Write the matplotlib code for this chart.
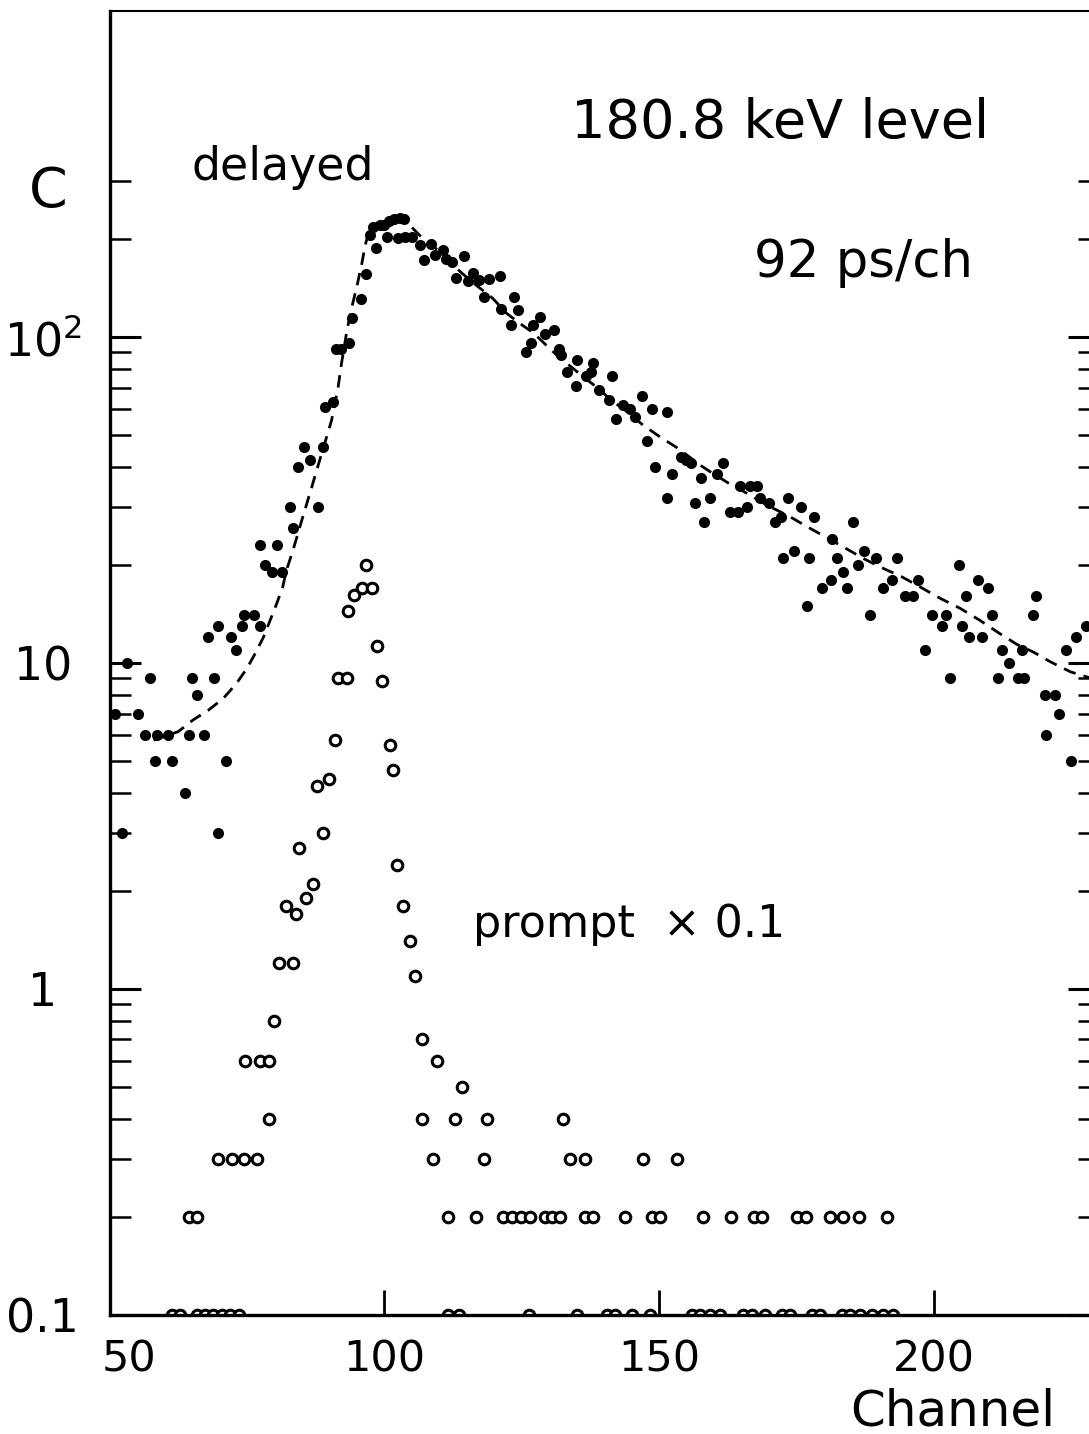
import numpy as np
import matplotlib
matplotlib.use("Agg")
import matplotlib.pyplot as plt
from matplotlib.transforms import ScaledTranslation

# delayed spectrum (filled dots)
delayed_ch = [50.9, 52.2, 53.1, 55.2, 56.5, 57.4, 58.3, 58.7, 60.6, 61.3, 63.7, 64.5, 65.0, 66.0, 67.2,
              68.0, 69.0, 69.7, 69.8, 71.2, 72.1, 73.0, 74.1, 74.5, 76.3, 77.3, 77.4, 78.3, 79.6, 80.4,
              81.4, 82.8, 83.4, 84.2, 85.3, 86.4, 88.0, 88.9, 89.2, 90.6, 91.2, 92.1, 93.6, 94.2, 95.7,
              96.6, 97.3, 98.0, 98.5, 99.2, 100.0, 100.4, 100.8, 101.7, 102.5, 102.8, 103.6, 103.8, 105.0,
              106.4, 107.2, 108.4, 109.3, 110.6, 111.2, 112.3, 113.0, 114.5, 115.3, 116.1, 117.3, 118.1,
              119.1, 121.1, 121.2, 123.1, 123.5, 124.4, 125.7, 126.7, 127.0, 128.3, 129.3, 130.9, 131.8,
              132.1, 133.2, 134.8, 135.1, 136.6, 137.6, 137.9, 139.1, 140.8, 141.5, 142.2, 143.5, 144.6,
              145.6, 146.9, 147.7, 148.7, 149.3, 151.4, 151.4, 152.3, 154.0, 154.9, 155.7, 156.5, 157.6,
              158.2, 159.3, 160.6, 161.6, 162.9, 164.4, 164.7, 165.9, 166.5, 167.8, 168.4, 169.9, 171.1,
              172.1, 172.5, 173.5, 174.5, 175.8, 176.9, 177.2, 178.2, 179.7, 181.2, 181.4, 182.3, 183.4,
              184.2, 185.2, 186.1, 187.3, 188.4, 189.4, 190.8, 192.4, 193.2, 194.7, 196.2, 197.0, 198.4,
              199.6, 201.4, 202.2, 202.9, 204.6, 205.1, 205.8, 206.4, 208.0, 208.8, 209.8, 210.6, 211.7,
              212.3, 213.7, 215.2, 216.0, 216.3, 218.0, 218.6, 220.2, 220.3, 222.0, 222.8, 224.0, 224.9,
              225.9, 227.7]
delayed_counts = [7, 3, 10, 7, 6, 9, 5, 6, 6, 5, 4, 6, 9, 8, 6,
                  12, 9, 13, 3, 5, 12, 11, 13, 14, 14, 13, 23, 20, 19, 23,
                  19, 30, 26, 40, 46, 42, 30, 46, 61, 63, 92, 92, 96, 114, 131,
                  156, 205, 217, 187, 220, 221, 203, 227, 230, 201, 231, 230, 203, 202,
                  191, 172, 193, 178, 185, 173, 170, 152, 177, 149, 157, 150, 133,
                  151, 154, 122, 109, 133, 121, 90, 96, 109, 115, 102, 105, 92,
                  88, 78, 71, 85, 76, 78, 83, 69, 64, 76, 56, 62, 60,
                  57, 66, 48, 60, 40, 59, 32, 38, 43, 42, 41, 31, 37,
                  27, 32, 38, 41, 29, 29, 35, 30, 35, 35, 32, 31, 27,
                  28, 21, 32, 22, 30, 15, 21, 28, 17, 18, 24, 21, 19,
                  17, 27, 20, 22, 14, 21, 17, 18, 21, 16, 16, 18, 11,
                  14, 13, 14, 9, 20, 13, 16, 12, 18, 12, 17, 14, 9,
                  11, 10, 9, 11, 9, 14, 16, 8, 6, 8, 7, 11, 5,
                  12, 13]

# prompt spectrum x 0.1 (open circles)
prompt_ch = [61.3, 62.8, 64.5, 65.9, 66.0, 67.4, 68.9, 69.8, 70.4, 71.9, 72.2, 73.6, 74.5, 74.7, 76.9,
             77.4, 79.0, 79.1, 79.9, 80.8, 82.1, 83.4, 83.9, 84.5, 85.8, 87.1, 87.7, 88.8, 89.9, 91.0,
             91.5, 93.2, 93.4, 94.5, 96.0, 96.7, 97.7, 98.6, 99.6, 101.0, 101.6, 102.3, 103.3, 104.7,
             105.5, 106.8, 106.9, 108.9, 109.5, 111.6, 111.6, 112.9, 113.5, 114.2, 116.6, 118.1, 118.7,
             121.5, 123.2, 124.8, 126.4, 126.5, 129.2, 130.5, 132.0, 132.5, 133.8, 135.1, 136.5, 136.5,
             138.0, 140.5, 142.0, 143.7, 145.0, 147.1, 148.3, 148.7, 150.2, 153.2, 155.9, 157.4, 158.0,
             159.2, 161.0, 163.0, 165.3, 166.8, 167.3, 168.7, 169.3, 172.3, 173.8, 175.1, 176.7, 177.8,
             179.3, 181.0, 183.2, 183.4, 184.7, 186.4, 186.5, 188.7, 190.8, 191.5, 192.6]
prompt_vals = [0.1, 0.1, 0.2, 0.1, 0.2, 0.1, 0.1, 0.3, 0.1, 0.1, 0.3, 0.1, 0.3, 0.6, 0.3,
               0.6, 0.6, 0.4, 0.8, 1.2, 1.8, 1.2, 1.7, 2.7, 1.9, 2.1, 4.2, 3.0, 4.4, 5.8,
               9.0, 9.0, 14.4, 16.2, 17.0, 20.0, 17.0, 11.3, 8.8, 5.6, 4.7, 2.4, 1.8, 1.4,
               1.1, 0.4, 0.7, 0.3, 0.6, 0.1, 0.2, 0.4, 0.1, 0.5, 0.2, 0.3, 0.4,
               0.2, 0.2, 0.2, 0.1, 0.2, 0.2, 0.2, 0.2, 0.4, 0.3, 0.1, 0.2, 0.3,
               0.2, 0.1, 0.1, 0.2, 0.1, 0.3, 0.1, 0.2, 0.2, 0.3, 0.1, 0.1, 0.2,
               0.1, 0.1, 0.2, 0.1, 0.1, 0.2, 0.2, 0.1, 0.1, 0.1, 0.2, 0.2, 0.1,
               0.1, 0.2, 0.1, 0.2, 0.1, 0.2, 0.1, 0.1, 0.1, 0.2, 0.1]

# fitted curve (dashed)
fit_ch = [58.0, 60.0, 62.5, 65.2, 68.0, 70.7, 73.1, 75.0, 76.5, 78.0, 79.2, 80.4, 81.5, 82.2, 83.2,
          84.1, 85.0, 85.9, 86.8, 87.7, 88.6, 89.5, 90.4, 91.6, 92.2, 93.2, 94.1, 95.0, 95.9, 96.5,
          97.1, 98.0, 99.8, 102.3, 103.8, 105.0, 106.8, 108.5, 112.4, 114.1, 117.2, 119.6, 122.3,
          125.0, 127.1, 129.5, 132.0, 133.9, 137.0, 138.9, 141.2, 144.1, 147.1, 150.3, 153.2, 155.4,
          157.4, 159.3, 162.4, 165.9, 169.6, 173.8, 176.9, 180.2, 183.5, 187.2, 190.8, 194.1, 197.5,
          201.1, 204.8, 208.4, 212.0, 215.1, 218.1, 221.1, 224.8, 228.4]
fit_vals = [5.8, 5.95, 6.16, 6.69, 7.17, 7.79, 8.66, 9.63, 10.7, 12.0, 13.5, 15.2, 17.1, 19.3, 21.7,
            24.4, 27.5, 30.9, 34.7, 39.1, 44.0, 49.4, 55.6, 70.4, 83.0, 105, 124, 143, 168, 191,
            208, 218, 223, 230, 227, 217, 202, 193, 167, 157, 142, 132, 118,
            109, 103, 94.2, 86.0, 81.2, 73.6, 69.7, 64.1, 59.1, 53.6, 49.2, 45.8, 43.0,
            40.5, 38.6, 35.8, 33.2, 30.5, 28.1, 26.2, 24.4, 22.7, 20.9, 19.5, 18.4, 17.1,
            15.8, 14.7, 13.5, 12.3, 11.4, 10.8, 10.1, 9.4, 9.0]

plt.rcParams['font.family'] = ['DejaVu Sans']

fig = plt.figure(figsize=(10.89, 14.34), dpi=100)
ax = fig.add_axes([0.1006, 0.0830, 0.9085, 0.9093])

ax.plot(fit_ch, fit_vals, color='black', lw=2.0, ls=(0, (4.5, 3.0)))
ax.plot(delayed_ch, delayed_counts, 'o', color='black', ms=8.0, mew=0)
ax.plot(prompt_ch, prompt_vals, 'o', mfc='white', mec='black', ms=7.6, mew=2.2)

ax.set_yscale('log')
ax.set_xlim(50, 230)
ax.set_ylim(0.1, 1000)

ax.set_xticks([50, 100, 150, 200])
ax.set_xticklabels(['50', '100', '150', '200'])
ax.set_yticks([0.1, 1, 10, 100])
ax.set_yticklabels(['0.1', '1', '10', r'$10^2$'])
minors = [m * d for d in [0.1, 1, 10] for m in range(2, 10)] + [200, 300]
ax.set_yticks(minors, minor=True)
ax.yaxis.set_minor_formatter(plt.NullFormatter())

ax.tick_params(axis='x', which='major', direction='in', length=18, width=2.0,
               labelsize=31, pad=17, top=False)
ax.tick_params(axis='x', which='minor', bottom=False, top=False)
ax.tick_params(axis='y', which='major', direction='in', length=22, width=2.2,
               labelsize=33, pad=48, left=True, right=True)
ax.tick_params(axis='y', which='minor', direction='in', length=15, width=1.8,
               left=True, right=True)
for lab in ax.get_yticklabels():
    lab.set_horizontalalignment('center')

# the "50" label sits a bit right of the corner
lab50 = ax.get_xticklabels()[0]
lab50.set_transform(lab50.get_transform() + ScaledTranslation(0.2, 0, fig.dpi_scale_trans))

for side in ['left', 'bottom']:
    ax.spines[side].set_linewidth(2.4)
ax.spines['top'].set_linewidth(1.5)
ax.spines['right'].set_linewidth(2.2)

fig.text(0.044, 0.866, 'C', fontsize=40, ha='center', va='center')
fig.text(0.875, 0.016, 'Channel', fontsize=36, ha='center', va='center')
fig.text(0.716, 0.914, '180.8 keV level', fontsize=39, ha='center', va='center')
fig.text(0.793, 0.8166, '92 ps/ch', fontsize=37, ha='center', va='center')
fig.text(0.26, 0.883, 'delayed', fontsize=33, ha='center', va='center')
fig.text(0.578, 0.355, 'prompt  \u00d7 0.1', fontsize=32, ha='center', va='center')

fig.savefig('out.png', dpi=100)
